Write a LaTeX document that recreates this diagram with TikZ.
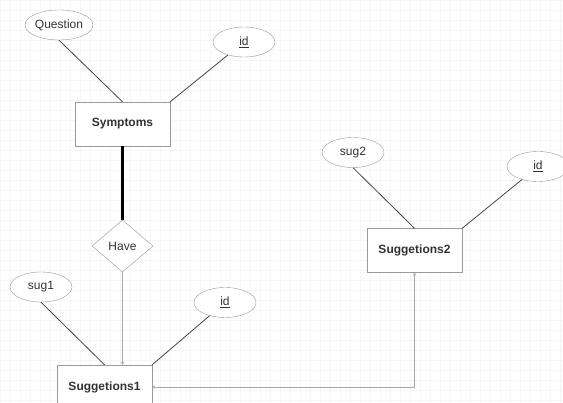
\documentclass[tikz,border=0pt]{standalone}
\usepackage{fontspec}
\setmainfont{Liberation Sans}
\usetikzlibrary{shapes.geometric,arrows.meta}
\definecolor{txt}{HTML}{333333}
\definecolor{edge}{HTML}{444444}
\definecolor{bord}{HTML}{999999}
\definecolor{thin}{HTML}{A8A8A8}
\definecolor{gridc}{HTML}{F6F6F6}
\begin{document}
\begin{tikzpicture}[x=1pt,y=-1pt,
  attr/.style={ellipse, draw=bord, fill=white, minimum width=62pt, minimum height=30pt, inner sep=0pt, text=txt, font=\fontsize{12}{14}\selectfont},
  ent/.style={rectangle, draw=bord, fill=white, minimum width=95pt, minimum height=44pt, inner sep=0pt, text=txt, font=\bfseries\fontsize{12}{14}\selectfont},
  rel/.style={diamond, draw=bord, fill=white, minimum width=61pt, minimum height=52pt, inner sep=0pt, text=txt, font=\fontsize{12}{14}\selectfont},
  conn/.style={draw=edge, line width=0.8pt},
  thick conn/.style={draw=black, line width=2.5pt},
  light conn/.style={draw=thin, line width=0.8pt},
  tip/.tip={Stealth[open, length=3pt, width=4pt]}
]
\useasboundingbox (0,0) rectangle (563,403);
\clip (0,0) rectangle (563,403);
\fill[white] (0,0) rectangle (563,403);
\foreach \gx in {0,10,...,560} \draw[gridc, line width=0.4pt] (\gx,0) -- (\gx,403);
\foreach \gy in {0,10,...,400} \draw[gridc, line width=0.4pt] (0,\gy) -- (563,\gy);

\node[attr] (q) at (59,25) {Question};
\node[attr] (ida) at (244,42) {\underline{id}};
\node[ent] (sym) at (122.5,124) {Symptoms};
\node[rel] (have) at (122.5,246) {Have};
\node[attr] (sug1) at (41,287) {sug1};
\node[attr] (idb) at (225,302.5) {\underline{id}};
\node[ent] (s1) at (104.5,387) {Suggetions1};
\node[ent] (s2) at (414.5,250.5) {Suggetions2};
\node[attr] (sug2) at (353,152.5) {sug2};
\node[attr] (idc) at (538,166.5) {\underline{id}};

\draw[conn] (q.south) -- (sym.north);
\draw[conn] (ida) -- (sym.north east);
\draw[conn] (sug1.south) -- (s1.north);
\draw[conn] (idb) -- (s1.north east);
\draw[conn] (sug2.south) -- (s2.north);
\draw[conn] (idc) -- (s2.north east);

\draw[thick conn] (sym.south) -- (have.north);
\draw[light conn, -tip] (have.south) -- (have.south |- s1.north);
\draw[light conn, tip-tip] (s1.east) -- (s1.east -| s2.south) -- (s2.south);
\end{tikzpicture}
\end{document}
